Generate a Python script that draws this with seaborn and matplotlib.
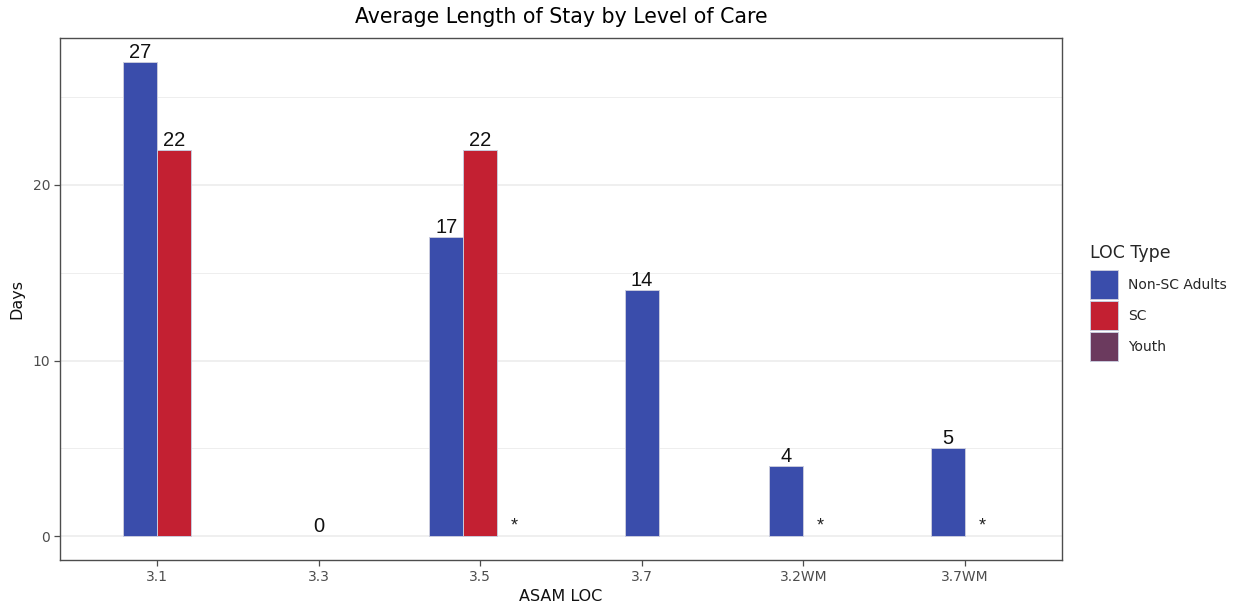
import numpy as np
import pandas as pd
import matplotlib
matplotlib.use("Agg")
import matplotlib.pyplot as plt
from matplotlib.patches import Patch
from matplotlib.ticker import MultipleLocator
import seaborn as sns

# ---- data -------------------------------------------------------------
categories = ["3.1", "3.3", "3.5", "3.7", "3.2WM", "3.7WM"]
loc_types = ["Non-SC Adults", "SC", "Youth"]
palette = {"Non-SC Adults": "#3A4DAB", "SC": "#C32032", "Youth": "#6B3A5E"}

row_category = ["3.1", "3.1", "3.3", "3.5", "3.5", "3.5", "3.7",
                "3.2WM", "3.2WM", "3.7WM", "3.7WM"]
row_type = ["Non-SC Adults", "SC", "Non-SC Adults", "Non-SC Adults", "SC",
            "Youth", "Non-SC Adults", "Non-SC Adults", "Youth",
            "Non-SC Adults", "Youth"]
# None = suppressed value (shown as "*")
row_days = [27, 22, 0, 17, 22, None, 14, 4, None, 5, None]

df = pd.DataFrame({"loc": row_category, "type": row_type, "days": row_days})

# ---- style ------------------------------------------------------------
sns.set_theme(style="white")
plt.rcParams["font.family"] = ["DejaVu Sans"]

fig = plt.figure(figsize=(12.39, 6.11), dpi=100)
ax = fig.add_axes([60 / 1239, 1 - 560 / 611, 1002 / 1239, 522 / 611])

slot = 0.21
for ci, cat in enumerate(categories):
    sub = df[df["loc"] == cat].copy()
    sub["order"] = sub["type"].map(loc_types.index)
    sub = sub.sort_values("order")
    n = len(sub)
    for j, (_, r) in enumerate(sub.iterrows()):
        x = ci + (j - (n - 1) / 2) * slot
        val = r["days"]
        suppressed = pd.isna(val)
        h = 0 if suppressed else float(val)
        ax.bar(x, h, width=slot, color=palette[r["type"]],
               edgecolor="#C9CBDD", linewidth=0.7 if h > 0 else 0, zorder=3)
        if suppressed:
            ax.text(x, h + 0.1, "*", ha="center", va="bottom",
                    fontsize=13, family="Liberation Sans", color="#222222",
                    zorder=4)
        else:
            ax.text(x, h, f"{int(h)}", ha="center", va="bottom",
                    fontsize=14.5, family="Liberation Sans", color="#111111",
                    zorder=4)

ax.set_xlim(-0.6, len(categories) - 0.4)
ax.set_ylim(-1.35, 28.35)
ax.set_xticks(range(len(categories)))
ax.set_xticklabels(categories)
ax.yaxis.set_major_locator(MultipleLocator(10))
ax.yaxis.set_minor_locator(MultipleLocator(5))
ax.grid(axis="y", which="major", color="#EBEBEB", linewidth=1.1, zorder=0)
ax.grid(axis="y", which="minor", color="#EBEBEB", linewidth=0.6, zorder=0)
ax.set_axisbelow(True)

for s in ax.spines.values():
    s.set_color("#4D4D4D")
    s.set_linewidth(1.0)

ax.tick_params(axis="both", which="major", length=4, width=0.9,
               color="#4D4D4D", labelcolor="#4D4D4D", labelsize=10,
               bottom=True, left=True, pad=3)
ax.tick_params(axis="y", which="minor", length=0)

ax.set_title("Average Length of Stay by Level of Care", fontsize=14.8,
             color="#000000", pad=11)
ax.set_xlabel("ASAM LOC", fontsize=11.5, color="#111111", labelpad=4)
ax.set_ylabel("Days", fontsize=11.5, color="#111111", labelpad=6)

handles = [Patch(facecolor=palette[t], edgecolor="#C9CBDD", linewidth=0.7)
           for t in loc_types]
leg = fig.legend(handles, loc_types, title="LOC Type", loc="upper left",
                 bbox_to_anchor=(1084 / 1239, 1 - 238 / 611), frameon=False,
                 fontsize=10, title_fontsize=12.5, handlelength=2.05,
                 handleheight=2.85, labelspacing=0.15, handletextpad=0.75,
                 borderaxespad=0)
leg._legend_box.align = "left"
leg._legend_box.sep = 6

fig.savefig("out.png", dpi=100, facecolor="white")
